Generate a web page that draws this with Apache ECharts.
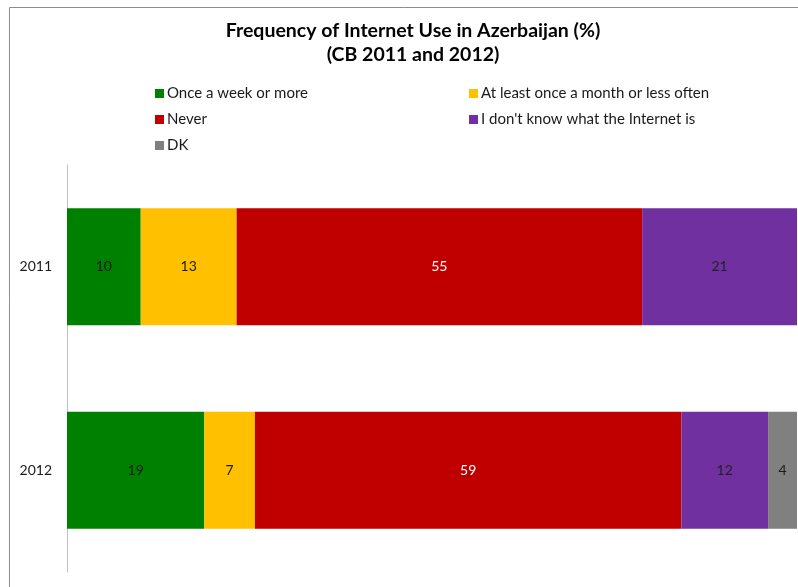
<!DOCTYPE html>
<html>
<head>
<meta charset="utf-8">
<script src="https://cdn.jsdelivr.net/npm/echarts@6/dist/echarts.min.js"></script>
<style>html,body{margin:0;padding:0;background:#fff}#c{width:798px;height:587px}</style>
</head>
<body>
<div id="c"></div>
<script>
const years = ['2011', '2012'];
const seriesNames = ['Once a week or more', 'At least once a month or less often', 'Never', "I don't know what the Internet is", 'DK'];
const onceWeek = [10, 19];
const atLeastMonth = [13, 7];
const never = [55, 59];
const dontKnowInternet = [21, 12];
const dk = [0, 4];
const colors = ['#008000', '#FFC000', '#C00000', '#7030A0', '#808080'];
const labelColors = ['#1a1a1a', '#1a1a1a', '#ffffff', '#222222', '#1a1a1a'];

const raw = [onceWeek, atLeastMonth, never, dontKnowInternet, dk];
const totals = years.map((_, i) => raw.reduce((s, arr) => s + arr[i], 0));
const FONT = 'Lato';

const legendText = { fontSize: 15, lineHeight: 14, color: '#1a1a1a', fontFamily: FONT, padding: [0, 0, 0, -2] };

const chart = echarts.init(document.getElementById('c'));
chart.setOption({
  animation: false,
  textStyle: { fontFamily: FONT },
  title: {
    text: 'Frequency of Internet Use in Azerbaijan (%)\n(CB 2011 and 2012)',
    left: 408, top: 14, textAlign: 'center',
    textStyle: { fontSize: 19.5, fontWeight: 'bold', color: '#000', lineHeight: 24, fontFamily: FONT }
  },
  legend: [
    { data: [seriesNames[0], seriesNames[2], seriesNames[4]], orient: 'vertical', left: 150, top: 81,
      itemWidth: 9, itemHeight: 9, itemGap: 11, icon: 'rect', textStyle: legendText },
    { data: [seriesNames[1], seriesNames[3]], orient: 'vertical', left: 464, top: 81,
      itemWidth: 9, itemHeight: 9, itemGap: 11, icon: 'rect', textStyle: legendText }
  ],
  graphic: [{ type: 'rect', shape: { x: 9.5, y: 7.5, width: 900, height: 700 }, style: { fill: 'none', stroke: '#8c8c8c', lineWidth: 1 }, silent: true }],
  grid: { left: 67, right: 1, top: 165, bottom: 15 },
  xAxis: { type: 'value', min: 0, max: 100, show: false },
  yAxis: {
    type: 'category', data: years, inverse: true,
    axisLine: { show: true, lineStyle: { color: '#bfbfbf', width: 1 } },
    axisTick: { show: false },
    axisLabel: { fontSize: 14, color: '#1a1a1a', margin: 15, fontFamily: FONT }
  },
  series: raw.map((arr, k) => ({
    name: seriesNames[k], type: 'bar', stack: 'total', barWidth: 117,
    itemStyle: { color: colors[k] },
    label: {
      show: true, position: 'inside', color: labelColors[k], fontSize: 14, fontFamily: FONT,
      formatter: p => arr[p.dataIndex] > 0 ? String(arr[p.dataIndex]) : ''
    },
    data: arr.map((v, i) => v / totals[i] * 100)
  }))
});
</script>
</body>
</html>
